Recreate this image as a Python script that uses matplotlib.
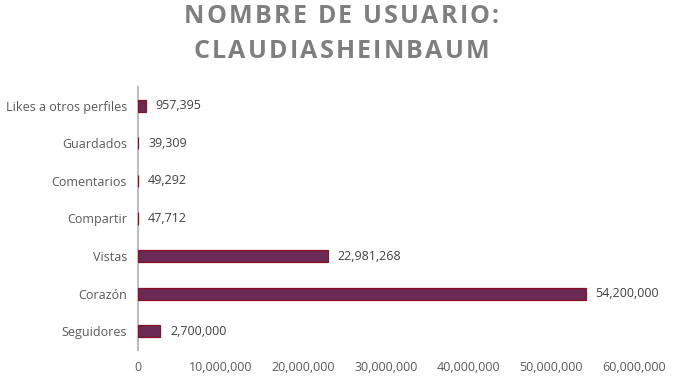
import numpy as np
import matplotlib

matplotlib.use("Agg")
import matplotlib.pyplot as plt
from matplotlib.ticker import FuncFormatter

categories = ["Likes a otros perfiles", "Guardados", "Comentarios", "Compartir",
              "Vistas", "Corazón", "Seguidores"]
values = [957395, 39309, 49292, 47712, 22981268, 54200000, 2700000]
xticks = [0, 10000000, 20000000, 30000000, 40000000, 50000000, 60000000]
title_lines = ["NOMBRE DE USUARIO:", "CLAUDIASHEINBAUM"]

plt.rcParams["font.family"] = ["Open Sans", "DejaVu Sans"]

W, H = 683, 384
fig = plt.figure(figsize=(W / 100, H / 100), dpi=100)
ax = fig.add_axes([0.202, 0.0885, 0.726, 0.685])

y = np.arange(len(categories))[::-1]
bars = ax.barh(y, values, height=0.32, color="#6b2a55", edgecolor="#8b1020",
               linewidth=0.9, zorder=3)

for b, v in zip(bars, values):
    ax.annotate(f"{v:,}", (v, b.get_y() + b.get_height() / 2), xytext=(7, 0),
                textcoords="offset points", va="center", ha="left",
                fontsize=9, color="#404040")

ax.set_xlim(0, 60000000)
ax.set_ylim(-0.5, len(categories) - 0.5)
ax.set_xticks(xticks)
ax.xaxis.set_major_formatter(FuncFormatter(lambda v, p: f"{int(v):,}"))
ax.set_yticks(y)
ax.set_yticklabels(categories)
ax.tick_params(axis="both", length=0, labelsize=9, colors="#595959", pad=8)
for s in ["top", "right", "bottom"]:
    ax.spines[s].set_visible(False)
ax.spines["left"].set_color("#bfbfbf")
ax.spines["left"].set_linewidth(1.5)
ax.spines["left"].set_zorder(2)


# title with letter spacing (drawn char by char)
def spaced_title(line, top_px, fs=18, extra_px=2.2):
    r = fig.canvas.get_renderer()
    widths = []
    for ch in line:
        t = fig.text(0, 0, ch, fontsize=fs, fontweight="bold")
        widths.append(t.get_window_extent(r).width if ch != " " else fs * 0.36)
        t.remove()
    total = sum(widths) + extra_px * (len(line) - 1)
    x = W / 2 - total / 2
    for ch, w in zip(line, widths):
        fig.text(x / W, 1 - top_px / H, ch, fontsize=fs, fontweight="bold",
                 color="#7f7f7f", ha="left", va="top")
        x += w + extra_px


spaced_title(title_lines[0], 4)
spaced_title(title_lines[1], 39)

fig.savefig("out.png", dpi=100)
